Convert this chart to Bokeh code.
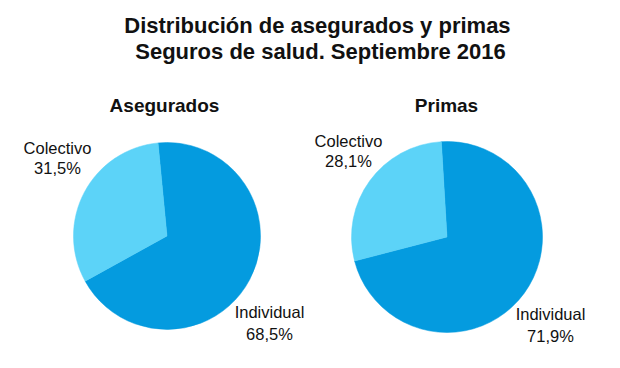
import math
from bokeh.plotting import figure
from bokeh.models import Range1d, ColumnDataSource
from bokeh.core.properties import value
from bokeh.embed import file_html
from bokeh.resources import INLINE

# ---- data ----
categories = ["Individual", "Colectivo"]
asegurados = [68.5, 31.5]
primas = [71.9, 28.1]
pie_titles = ["Asegurados", "Primas"]
title_lines = ["Distribución  de asegurados y primas", "Seguros de salud. Septiembre 2016"]
colors = ["#049BDF", "#5CD3F8"]

W, H = 604, 352
FONT = "Liberation Sans"

p = figure(width=W, height=H, output_backend="svg", toolbar_location=None,
           x_range=Range1d(0, W), y_range=Range1d(0, H), min_border=0)
p.axis.visible = False
p.grid.visible = False
p.outline_line_color = None
p.background_fill_color = "white"
p.border_fill_color = "white"

def px(x):
    return x

def py(y):
    return H - y

def draw_pie(vals, cx, cy, r, offset_deg):
    start = math.pi / 2 + math.radians(offset_deg)
    total = sum(vals)
    starts, ends = [], []
    cum = 0.0
    for v in vals:
        a0 = start - cum / total * 2 * math.pi
        cum += v
        a1 = start - cum / total * 2 * math.pi
        starts.append(a0)
        ends.append(a1)
    src = ColumnDataSource(dict(x=[px(cx)] * len(vals), y=[py(cy)] * len(vals),
                                s=starts, e=ends, c=colors[:len(vals)]))
    p.wedge(x="x", y="y", radius=r, start_angle="s", end_angle="e",
            direction="clock", fill_color="c", line_color="c", line_width=0.5,
            source=src)

draw_pie(asegurados, 166.5, 235.5, 93.5, 5.5)
draw_pie(primas, 446.5, 236.5, 95.5, 3.4)

def txt(x, y, s, size, bold=False):
    p.text(x=[px(x)], y=[py(y)], text=[s], text_font=value(FONT),
           text_font_size=f"{size}px", text_font_style="bold" if bold else "normal",
           text_align="center", text_baseline="middle", text_color="#111111")

txt(320, 25, title_lines[0], 22, True)
txt(320, 51, title_lines[1], 22, True)
txt(164, 105, pie_titles[0], 19, True)
txt(446, 105, pie_titles[1], 19, True)

def pct(v):
    return f"{v:.1f}".replace(".", ",") + "%"

# Asegurados labels
txt(57, 147, categories[1], 16.5)
txt(57, 167, pct(asegurados[1]), 16.5)
txt(269, 311, categories[0], 16.5)
txt(269, 333, pct(asegurados[0]), 16.5)
# Primas labels
txt(348, 140, categories[1], 16.5)
txt(348, 160, pct(primas[1]), 16.5)
txt(550, 313, categories[0], 16.5)
txt(550, 335, pct(primas[0]), 16.5)

open("out.html", "w").write(file_html(p, INLINE))
